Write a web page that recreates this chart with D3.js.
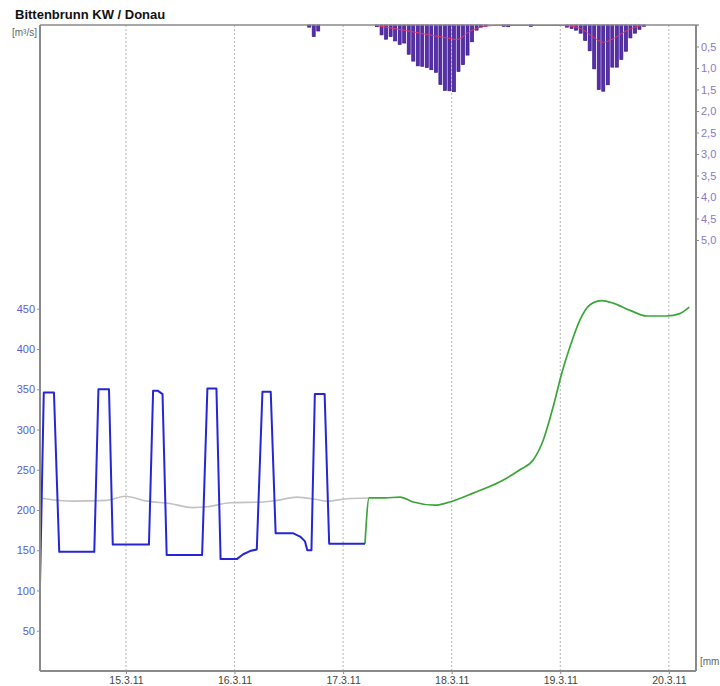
<!DOCTYPE html>
<html>
<head>
<meta charset="utf-8">
<script src="https://cdn.jsdelivr.net/npm/d3@7/dist/d3.min.js"></script>
<style>
  html, body { margin: 0; padding: 0; background: #ffffff; }
  svg { display: block; font-family: "Liberation Sans", Arial, sans-serif; }
</style>
</head>
<body>
<svg id="chart" width="720" height="686"></svg>
<script>
// Gauge Bittenbrunn KW / Donau: discharge (m³/s) and hourly precipitation (mm)

const timeDomain = ["2011-03-14 05:00", "2011-03-20 06:00"];
const dayTicks = ["2011-03-15 00:00", "2011-03-16 00:00", "2011-03-17 00:00",
                  "2011-03-18 00:00", "2011-03-19 00:00", "2011-03-20 00:00"];
const dischargeTicks = [50, 100, 150, 200, 250, 300, 350, 400, 450];
const precipTicks = [0.5, 1.0, 1.5, 2.0, 2.5, 3.0, 3.5, 4.0, 4.5, 5.0];

// measured discharge (blue)
const measuredTimes = [
  "2011-03-14 05:00", "2011-03-14 05:50", "2011-03-14 08:05", "2011-03-14 09:15",
  "2011-03-14 17:00", "2011-03-14 17:55", "2011-03-14 20:15", "2011-03-14 21:05",
  "2011-03-15 05:05", "2011-03-15 06:00", "2011-03-15 07:05", "2011-03-15 08:05",
  "2011-03-15 09:00", "2011-03-15 16:50", "2011-03-15 18:00", "2011-03-15 20:00",
  "2011-03-15 20:55", "2011-03-16 00:30", "2011-03-16 01:55", "2011-03-16 03:25",
  "2011-03-16 04:55", "2011-03-16 06:10", "2011-03-16 08:00", "2011-03-16 09:05",
  "2011-03-16 13:00", "2011-03-16 14:30", "2011-03-16 15:35", "2011-03-16 16:05",
  "2011-03-16 17:00", "2011-03-16 17:45", "2011-03-16 19:55", "2011-03-16 20:55",
  "2011-03-17 04:50"
];
const measuredValues = [
  107, 346, 346, 148,
  148, 350, 350, 157,
  157, 348, 348, 344,
  144, 144, 351, 351,
  139, 139, 145, 149,
  151, 347, 347, 171,
  171, 167, 161, 150,
  150, 344, 344, 158,
  158
];

// forecast discharge (green)
const forecastTimes = [
  "2011-03-17 04:50", "2011-03-17 05:45", "2011-03-17 09:15", "2011-03-17 12:35",
  "2011-03-17 15:30", "2011-03-17 20:20", "2011-03-17 23:35", "2011-03-18 04:45",
  "2011-03-18 10:40", "2011-03-18 15:05", "2011-03-18 18:00", "2011-03-18 20:15",
  "2011-03-18 22:25", "2011-03-19 00:20", "2011-03-19 02:10", "2011-03-19 04:20",
  "2011-03-19 06:35", "2011-03-19 09:10", "2011-03-19 11:40", "2011-03-19 15:25",
  "2011-03-19 19:05", "2011-03-19 23:30", "2011-03-20 02:25", "2011-03-20 04:30"
];
const forecastValues = [
  158, 215, 215, 216,
  210, 206, 210, 221,
  235, 250, 262, 287,
  328, 370, 403, 436,
  455, 460, 457, 448,
  441, 441, 444, 452
];

// reference discharge (grey)
const referenceTimes = [
  "2011-03-14 05:00", "2011-03-14 12:20", "2011-03-14 19:50", "2011-03-14 23:50",
  "2011-03-15 04:40", "2011-03-15 09:40", "2011-03-15 14:50", "2011-03-15 17:55",
  "2011-03-15 23:00", "2011-03-16 06:20", "2011-03-16 09:25", "2011-03-16 13:50",
  "2011-03-16 18:10", "2011-03-16 20:25", "2011-03-17 00:50", "2011-03-17 05:40"
];
const referenceValues = [
  215, 211, 212, 217,
  211, 208, 203, 204,
  209, 210, 212, 216,
  213, 211, 214, 215
];

// hourly precipitation (start of each hour)
const precipTimes = [
  "2011-03-16 16:00", "2011-03-16 17:00", "2011-03-16 18:00",
  "2011-03-17 07:00", "2011-03-17 08:00", "2011-03-17 09:00", "2011-03-17 10:00",
  "2011-03-17 11:00", "2011-03-17 12:00", "2011-03-17 13:00", "2011-03-17 14:00",
  "2011-03-17 15:00", "2011-03-17 16:00", "2011-03-17 17:00", "2011-03-17 18:00",
  "2011-03-17 19:00", "2011-03-17 20:00", "2011-03-17 21:00", "2011-03-17 22:00",
  "2011-03-17 23:00", "2011-03-18 00:00", "2011-03-18 01:00", "2011-03-18 02:00",
  "2011-03-18 03:00", "2011-03-18 04:00", "2011-03-18 05:00", "2011-03-18 06:00",
  "2011-03-18 07:00",
  "2011-03-18 11:00", "2011-03-18 12:00", "2011-03-18 17:00",
  "2011-03-19 01:00", "2011-03-19 02:00", "2011-03-19 03:00", "2011-03-19 04:00",
  "2011-03-19 05:00", "2011-03-19 06:00", "2011-03-19 07:00", "2011-03-19 08:00",
  "2011-03-19 09:00", "2011-03-19 10:00", "2011-03-19 11:00", "2011-03-19 12:00",
  "2011-03-19 13:00", "2011-03-19 14:00", "2011-03-19 15:00", "2011-03-19 16:00",
  "2011-03-19 17:00", "2011-03-19 18:00"
];
const precipValues = [
  0.05, 0.27, 0.14,
  0.04, 0.23, 0.33, 0.27,
  0.37, 0.45, 0.42, 0.68,
  0.84, 0.95, 0.96, 0.99,
  1.04, 1.10, 1.38, 1.52,
  1.53, 1.55, 1.08, 0.92,
  0.70, 0.39, 0.12, 0.05,
  0.03,
  0.03, 0.04, 0.03,
  0.05, 0.08, 0.12, 0.19,
  0.36, 0.60, 1.02, 1.50,
  1.54, 1.39, 0.98, 0.98,
  0.80, 0.61, 0.30, 0.19,
  0.10, 0.03
];

// smoothed precipitation (red)
const smoothTimes = [
  "2011-03-17 07:00", "2011-03-17 10:00", "2011-03-17 15:00", "2011-03-17 19:00",
  "2011-03-18 00:00", "2011-03-18 01:00", "2011-03-18 02:00", "2011-03-18 03:00",
  "2011-03-18 05:30", "2011-03-18 08:00", "2011-03-18 10:00", "2011-03-18 17:00",
  "2011-03-19 00:00", "2011-03-19 02:00", "2011-03-19 05:00", "2011-03-19 07:00",
  "2011-03-19 09:30", "2011-03-19 11:40", "2011-03-19 14:20", "2011-03-19 17:10",
  "2011-03-19 18:40"
];
const smoothValues = [
  0.00, 0.06, 0.15, 0.23,
  0.32, 0.34, 0.31, 0.22,
  0.08, 0.02, 0.01, 0.01,
  0.01, 0.02, 0.11, 0.26,
  0.40, 0.32, 0.15, 0.03,
  0.00
];

const parse = d3.timeParse("%Y-%m-%d %H:%M");
const zip = (ts, vs) => ts.map((t, i) => ({ t: parse(t), v: vs[i] }));

const svg = d3.select("#chart");
const plotLeft = 40, plotRight = 696, plotTop = 25, plotBottom = 671;

const x = d3.scaleTime().domain(timeDomain.map(parse)).range([plotLeft, plotRight]);
const yQ = d3.scaleLinear().domain([0, 450]).range([plotBottom, plotBottom - 450 * 0.805]);
const yP = d3.scaleLinear().domain([0, 5]).range([plotTop, plotTop + 5 * 43]);
const comma = d3.formatLocale({ decimal: ",", thousands: ".", grouping: [3], currency: ["", "€"] }).format(".1f");

// vertical day grid
svg.append("g").selectAll("line")
  .data(dayTicks.map(parse))
  .join("line")
  .attr("x1", d => x(d)).attr("x2", d => x(d))
  .attr("y1", plotTop).attr("y2", plotBottom)
  .attr("stroke", "#b4b4b4").attr("stroke-width", 1)
  .attr("stroke-dasharray", "2,2");

// precipitation bars hanging from the top edge
const hourMid = d => d3.timeMinute.offset(d, 30);
svg.append("g").selectAll("rect")
  .data(zip(precipTimes, precipValues))
  .join("rect")
  .attr("x", d => x(hourMid(d.t)) - 1.5)
  .attr("y", plotTop)
  .attr("width", 3)
  .attr("height", d => yP(d.v) - plotTop)
  .attr("fill", "#5e2ca6")
  .attr("stroke", "#2e1a8e")
  .attr("stroke-width", 0.7);

// smoothed precipitation line
svg.append("path")
  .datum(zip(smoothTimes, smoothValues))
  .attr("fill", "none")
  .attr("stroke", "#e6396a")
  .attr("stroke-width", 1)
  .attr("d", d3.line().x(d => x(d.t)).y(d => yP(d.v)).curve(d3.curveMonotoneX));

// grey reference discharge
svg.append("path")
  .datum(zip(referenceTimes, referenceValues))
  .attr("fill", "none")
  .attr("stroke", "#c2c2c2")
  .attr("stroke-width", 1.6)
  .attr("d", d3.line().x(d => x(d.t)).y(d => yQ(d.v)).curve(d3.curveMonotoneX));

// green forecast discharge
svg.append("path")
  .datum(zip(forecastTimes, forecastValues))
  .attr("fill", "none")
  .attr("stroke", "#3aa63a")
  .attr("stroke-width", 1.7)
  .attr("d", d3.line().x(d => x(d.t)).y(d => yQ(d.v)).curve(d3.curveMonotoneX));

// blue measured discharge
svg.append("path")
  .datum(zip(measuredTimes, measuredValues))
  .attr("fill", "none")
  .attr("stroke", "#2626d6")
  .attr("stroke-width", 2)
  .attr("stroke-linejoin", "round")
  .attr("d", d3.line().x(d => x(d.t)).y(d => yQ(d.v)));

// frame: top zero line of precipitation, left/right/bottom axes
const axisColor = "#8a8a8a";
svg.append("line").attr("x1", plotLeft).attr("x2", plotRight).attr("y1", plotTop).attr("y2", plotTop)
  .attr("stroke", axisColor).attr("stroke-width", 1.5);

// left axis (discharge)
const gL = svg.append("g").attr("transform", `translate(${plotLeft},0)`)
  .call(d3.axisLeft(yQ).tickValues(dischargeTicks).tickSize(3).tickPadding(2).tickFormat(d3.format("d")));
gL.select(".domain").remove();
gL.append("line").attr("y1", plotTop).attr("y2", plotBottom).attr("stroke", axisColor).attr("stroke-width", 2);
gL.selectAll(".tick line").attr("stroke", "#8a8ad8");
gL.selectAll(".tick text").attr("fill", "#5c5cd0").attr("font-size", 11)
  .attr("font-family", "'Liberation Sans', Arial, sans-serif");

// right axis (precipitation, reversed)
const gR = svg.append("g").attr("transform", `translate(${plotRight},0)`)
  .call(d3.axisRight(yP).tickValues(precipTicks).tickSize(3).tickPadding(2).tickFormat(comma));
gR.select(".domain").remove();
gR.append("line").attr("y1", plotTop).attr("y2", plotBottom).attr("stroke", axisColor).attr("stroke-width", 2);
gR.append("line").attr("x1", 0).attr("x2", 3).attr("y1", plotTop).attr("y2", plotTop).attr("stroke", "#666");
gR.selectAll(".tick line").attr("stroke", "#888");
gR.selectAll(".tick text").attr("fill", "#8a78c4").attr("font-size", 11)
  .attr("font-family", "'Liberation Sans', Arial, sans-serif");

// bottom time axis
const fmtDay = d3.timeFormat("%-d.%-m.%y");
const gB = svg.append("g").attr("transform", `translate(0,${plotBottom})`)
  .call(d3.axisBottom(x).tickValues(dayTicks.map(parse)).tickSize(3).tickPadding(3).tickFormat(fmtDay));
gB.select(".domain").remove();
gB.append("line").attr("x1", plotLeft).attr("x2", plotRight).attr("stroke", axisColor).attr("stroke-width", 2);
gB.selectAll(".tick line").attr("stroke", "#888");
gB.selectAll(".tick text").attr("fill", "#444").attr("font-size", 10.5)
  .attr("font-family", "'Liberation Sans Narrow', 'Liberation Sans', Arial, sans-serif");

// titles and units
svg.append("text").attr("x", 15).attr("y", 19)
  .attr("font-size", 13).attr("font-weight", "bold").attr("fill", "#111")
  .text("Bittenbrunn KW / Donau");
svg.append("text").attr("x", 37).attr("y", 36).attr("text-anchor", "end")
  .attr("font-size", 10).attr("fill", "#666")
  .text("[m³/s]");
svg.append("text").attr("x", 700).attr("y", 665)
  .attr("font-size", 10).attr("fill", "#666")
  .text("[mm");
</script>
</body>
</html>
